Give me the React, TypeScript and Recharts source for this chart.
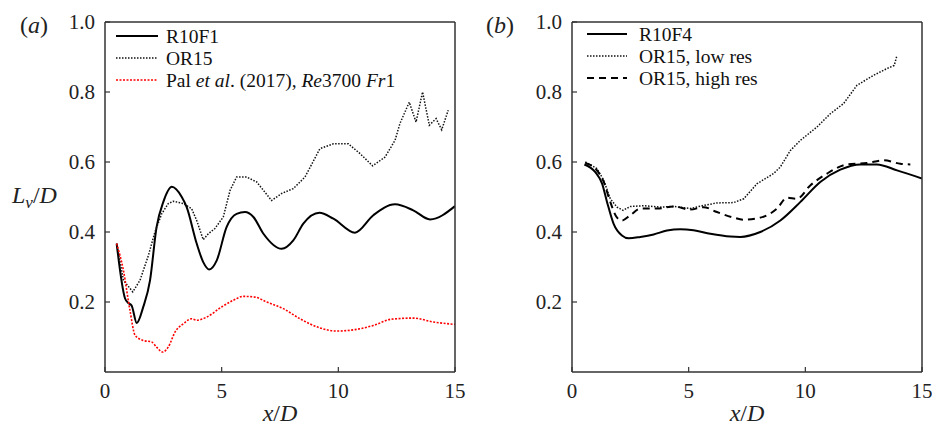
import React from "react";
import { LineChart, Line, XAxis, YAxis, Legend, Label } from "recharts";

// panel (a)
const r10f1X = [0.5, 0.86, 1.0, 1.14, 1.36, 1.64, 1.93, 2.21, 2.5, 2.86, 3.29, 3.5, 3.93, 4.21, 4.47, 4.79, 5.21, 5.64, 6.0, 6.36, 6.79, 7.57, 8.07, 8.5, 9.19, 9.79, 10.71, 11.5, 12.43, 13.21, 13.93, 15];
const r10f1Y = [0.367, 0.21, 0.197, 0.19, 0.14, 0.186, 0.262, 0.414, 0.486, 0.529, 0.5, 0.471, 0.367, 0.314, 0.293, 0.319, 0.414, 0.452, 0.457, 0.443, 0.395, 0.352, 0.376, 0.424, 0.455, 0.438, 0.398, 0.448, 0.479, 0.462, 0.436, 0.474];

const or15aX = [0.5, 0.79, 1.19, 1.5, 1.86, 2.14, 2.43, 2.71, 2.93, 3.36, 3.71, 3.93, 4.21, 4.43, 4.71, 5.07, 5.36, 5.64, 6.07, 6.5, 7.14, 7.57, 8.07, 8.57, 9.21, 9.79, 10.43, 10.93, 11.47, 12.0, 12.43, 12.64, 13.04, 13.33, 13.61, 13.9, 14.19, 14.43, 14.71];
const or15aY = [0.367, 0.262, 0.229, 0.262, 0.333, 0.4, 0.452, 0.481, 0.488, 0.481, 0.467, 0.433, 0.378, 0.395, 0.41, 0.443, 0.519, 0.557, 0.557, 0.543, 0.49, 0.51, 0.524, 0.557, 0.638, 0.652, 0.652, 0.624, 0.589, 0.614, 0.662, 0.71, 0.771, 0.714, 0.8, 0.705, 0.724, 0.692, 0.748];

const palX = [0.5, 0.79, 1.07, 1.29, 1.64, 2.0, 2.21, 2.47, 2.71, 3.0, 3.36, 3.71, 3.93, 4.36, 5.0, 5.5, 5.93, 6.43, 6.93, 7.64, 8.36, 9.21, 9.93, 10.71, 11.5, 12.29, 13.21, 14.07, 15];
const palY = [0.367, 0.29, 0.176, 0.105, 0.09, 0.086, 0.071, 0.057, 0.071, 0.114, 0.138, 0.152, 0.148, 0.157, 0.186, 0.205, 0.216, 0.214, 0.2, 0.181, 0.152, 0.126, 0.117, 0.121, 0.133, 0.151, 0.154, 0.143, 0.136];

// panel (b)
const r10f4X = [0.53, 1.0, 1.29, 1.5, 1.78, 2.14, 2.43, 2.93, 3.5, 4.07, 4.64, 5.21, 5.93, 6.79, 7.21, 8.07, 8.93, 9.79, 10.64, 11.5, 12.36, 13.07, 13.93, 15];
const r10f4Y = [0.593, 0.571, 0.538, 0.486, 0.424, 0.39, 0.382, 0.386, 0.393, 0.404, 0.408, 0.405, 0.395, 0.387, 0.386, 0.4, 0.433, 0.486, 0.543, 0.578, 0.593, 0.593, 0.576, 0.553];

const lowResX = [0.57, 1.07, 1.36, 1.64, 1.93, 2.19, 2.5, 3.07, 3.79, 4.36, 5.07, 5.64, 6.21, 6.93, 7.36, 7.93, 8.64, 8.93, 9.36, 9.79, 10.5, 11.07, 11.64, 12.21, 12.93, 13.5, 13.81, 13.93];
const lowResY = [0.6, 0.581, 0.548, 0.495, 0.471, 0.462, 0.473, 0.475, 0.471, 0.473, 0.467, 0.476, 0.483, 0.484, 0.495, 0.538, 0.567, 0.586, 0.633, 0.662, 0.7, 0.738, 0.767, 0.819, 0.848, 0.867, 0.876, 0.905];

const highResX = [0.57, 1.07, 1.36, 1.64, 1.93, 2.14, 2.5, 2.93, 3.64, 4.36, 5.07, 5.64, 6.21, 6.93, 7.36, 8.07, 8.79, 9.21, 9.64, 10.21, 10.93, 11.79, 12.64, 13.36, 14.07, 14.5];
const highResY = [0.597, 0.576, 0.543, 0.486, 0.441, 0.433, 0.448, 0.467, 0.467, 0.473, 0.464, 0.471, 0.457, 0.441, 0.435, 0.441, 0.467, 0.498, 0.495, 0.533, 0.567, 0.593, 0.597, 0.605, 0.595, 0.593];

const xTicks = [0, 5, 10, 15];
const yTicks = [0.2, 0.4, 0.6, 0.8, 1.0];

const FONT = '"Liberation Serif", "Times New Roman", "DejaVu Serif", serif';
const AXIS = "#333";
const TICK_FONT = 21;

type Pt = { x: number; y: number };
const pts = (xs: number[], ys: number[]): Pt[] => xs.map((x, i) => ({ x, y: ys[i] }));

interface Series {
  key: string;
  data: Pt[];
  color: string;
  width: number;
  dash?: string;
  curve: "monotone" | "linear";
  label: React.ReactNode;
}

const seriesA: Series[] = [
  { key: "r10f1", data: pts(r10f1X, r10f1Y), color: "#000", width: 2, curve: "monotone", label: "R10F1" },
  { key: "or15", data: pts(or15aX, or15aY), color: "#111", width: 1.5, dash: "1.5 1.5", curve: "linear", label: "OR15" },
  {
    key: "pal", data: pts(palX, palY), color: "#ff0000", width: 1.6, dash: "2 1.5", curve: "monotone",
    label: (
      <>
        Pal <tspan fontStyle="italic">et al</tspan>. (2017), <tspan fontStyle="italic">Re</tspan>3700 <tspan fontStyle="italic">Fr</tspan>1
      </>
    ),
  },
];

const seriesB: Series[] = [
  { key: "r10f4", data: pts(r10f4X, r10f4Y), color: "#000", width: 2, curve: "monotone", label: "R10F4" },
  { key: "low", data: pts(lowResX, lowResY), color: "#111", width: 1.5, dash: "1.5 1.5", curve: "linear", label: "OR15, low res" },
  { key: "high", data: pts(highResX, highResY), color: "#000", width: 2, dash: "7 5", curve: "monotone", label: "OR15, high res" },
];

function LegendBox({ items, lineLen, textX, gap }: { items: Series[]; lineLen: number; textX: number; gap: number }) {
  return (
    <svg width={360} height={75} style={{ overflow: "visible", display: "block" }}>
      {items.map((s, i) => {
        const y = 10 + i * gap;
        return (
          <g key={s.key}>
            <line x1={0} x2={lineLen} y1={y} y2={y} stroke={s.color} strokeWidth={s.width} strokeDasharray={s.dash} />
            <text x={textX} y={y + 6.5} fontSize={19.5} fontFamily={FONT} fill="#111">
              {s.label}
            </text>
          </g>
        );
      })}
    </svg>
  );
}

interface PanelProps {
  series: Series[];
  width: number;
  marginLeft: number;
  marginRight: number;
  tag: string;
  tagX: number;
  showYLabel: boolean;
  legendLeft: number;
  legendTop: number;
  legendLine: number;
  legendTextX: number;
  legendGap: number;
}

function Panel(p: PanelProps) {
  const plotLeft = p.marginLeft + 60;
  const plotRight = p.width - p.marginRight - 2;
  const cx = (plotLeft + plotRight) / 2;
  return (
    <LineChart width={p.width} height={427} margin={{ top: 20, right: p.marginRight, bottom: 25, left: p.marginLeft }}>
      <XAxis
        xAxisId="b" type="number" dataKey="x" domain={[0, 15]} ticks={xTicks} interval={0} allowDataOverflow height={30}
        axisLine={{ stroke: AXIS, strokeWidth: 1.5 }} tickLine={{ stroke: AXIS, strokeWidth: 1.2 }}
        tickSize={-5} tickMargin={16} tick={{ fontSize: TICK_FONT, fill: "#222", fontFamily: FONT }}
      >
        <Label
          content={() => (
            <text x={cx} y={421} textAnchor="middle" fontSize={24} fontFamily={FONT} fill="#222">
              <tspan fontStyle="italic">x</tspan>/<tspan fontStyle="italic">D</tspan>
            </text>
          )}
        />
      </XAxis>
      <XAxis
        xAxisId="t" orientation="top" type="number" dataKey="x" domain={[0, 15]} ticks={xTicks} interval={0} height={2}
        axisLine={{ stroke: AXIS, strokeWidth: 1.5 }} tickLine={{ stroke: AXIS, strokeWidth: 1.2 }} tickSize={-5} tick={false}
      />
      <YAxis
        yAxisId="l" type="number" domain={[0, 1]} ticks={yTicks} interval={0} width={60}
        axisLine={{ stroke: AXIS, strokeWidth: 1.5 }} tickLine={{ stroke: AXIS, strokeWidth: 1.2 }}
        tickSize={-5} tickMargin={15} tickFormatter={(v: number) => v.toFixed(1)}
        tick={{ fontSize: TICK_FONT, fill: "#222", fontFamily: FONT }}
      >
        <Label
          content={() => (
            <g fontFamily={FONT} fill="#222">
              <text x={p.tagX} y={33} fontSize={24}>
                (<tspan fontStyle="italic">{p.tag}</tspan>)
              </text>
              {p.showYLabel && (
                <text x={12} y={203} fontSize={24}>
                  <tspan fontStyle="italic">L</tspan>
                  <tspan fontStyle="italic" fontSize={17} dy={5}>v</tspan>
                  <tspan dy={-5}>/</tspan>
                  <tspan fontStyle="italic">D</tspan>
                </text>
              )}
            </g>
          )}
        />
      </YAxis>
      <YAxis
        yAxisId="r" orientation="right" type="number" domain={[0, 1]} ticks={yTicks} interval={0} width={2}
        axisLine={{ stroke: AXIS, strokeWidth: 1.5 }} tickLine={{ stroke: AXIS, strokeWidth: 1.2 }} tickSize={-5} tick={false}
      />
      <Legend
        layout="vertical" align="center" verticalAlign="middle"
        wrapperStyle={{ left: p.legendLeft, top: p.legendTop, width: 360 }}
        content={() => <LegendBox items={p.series} lineLen={p.legendLine} textX={p.legendTextX} gap={p.legendGap} />}
      />
      {p.series.map((s) => (
        <Line
          key={s.key}
          xAxisId="b"
          yAxisId="l"
          data={s.data}
          dataKey="y"
          type={s.curve}
          stroke={s.color}
          strokeWidth={s.width}
          strokeDasharray={s.dash}
          dot={false}
          activeDot={false}
          isAnimationActive={false}
        />
      ))}
    </LineChart>
  );
}

export default function App() {
  return (
    <div style={{ position: "absolute", left: 0, top: 0, width: 932, height: 427, background: "#fff" }}>
      <div style={{ position: "absolute", left: 0, top: 0 }}>
        <Panel
          series={seriesA} width={470} marginLeft={45} marginRight={13} tag="a" tagX={20} showYLabel
          legendLeft={116} legendTop={26} legendLine={42} legendTextX={50} legendGap={22}
        />
      </div>
      <div style={{ position: "absolute", left: 470, top: 0 }}>
        <Panel
          series={seriesB} width={462} marginLeft={42} marginRight={8} tag="b" tagX={16} showYLabel={false}
          legendLeft={117} legendTop={24} legendLine={40} legendTextX={52} legendGap={22}
        />
      </div>
    </div>
  );
}
